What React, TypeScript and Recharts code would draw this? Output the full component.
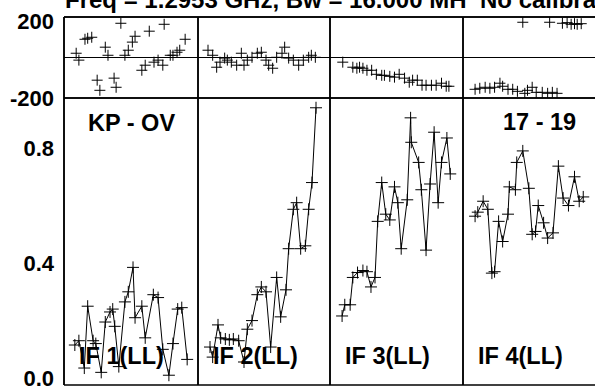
import { ComposedChart, Line, XAxis, YAxis, ReferenceLine } from 'recharts';

// times are minutes from the left edge of each panel
const if1PhaseTime = [18, 22, 31, 35, 41, 49, 53, 61, 65, 74, 77, 84, 90, 95, 101, 105, 115, 120, 126, 133, 139, 146, 148, 157, 161, 167, 171, 179];
const if1Phase = [21, -13, 90, 95, 100, -112, -162, 51, 11, -102, -147, 169, 11, 36, 76, 105, -63, -38, 130, -23, -13, -38, 164, 11, 11, 26, 36, 90];
const if1AmpTime = [16, 22, 30, 35, 43, 47, 55, 61, 68, 72, 75, 81, 90, 95, 102, 105, 115, 120, 132, 139, 146, 155, 161, 168, 174, 182];
const if1Amp = [0.115, 0.13, 0.035, 0.25, 0.13, 0.12, 0.02, 0.195, 0.23, 0.24, 0.18, 0.04, 0.265, 0.3, 0.385, 0.21, 0.25, 0.14, 0.29, 0.28, 0.1, 0.01, 0.12, 0.24, 0.245, 0.065];

const if2PhaseTime = [15, 22, 28, 33, 40, 44, 50, 58, 65, 69, 74, 81, 89, 95, 102, 106, 112, 118, 126, 130, 136, 143, 151, 158, 166, 170, 176];
const if2Phase = [36, 11, -48, -23, -3, -13, -23, -38, 21, -38, -13, 1, 21, 26, -13, -38, -53, 1, 21, 51, -3, -13, -38, -13, 1, 11, 1];
const if2AmpTime = [18, 22, 30, 34, 41, 47, 53, 61, 69, 74, 81, 89, 95, 102, 109, 118, 124, 132, 136, 143, 148, 154, 161, 166, 171, 177];
const if2Amp = [0.108, 0.073, 0.185, 0.14, 0.136, 0.133, 0.136, 0.13, 0.056, 0.17, 0.2, 0.29, 0.317, 0.3, 0.108, 0.35, 0.213, 0.307, 0.45, 0.587, 0.61, 0.45, 0.46, 0.587, 0.68, 0.94];

const if3PhaseTime = [19, 34, 40, 44, 49, 55, 62, 69, 77, 81, 89, 96, 103, 111, 118, 123, 130, 137, 143, 151, 158, 166, 173, 177];
const if3Phase = [-23, -48, -53, -48, -53, -63, -63, -83, -88, -88, -93, -97, -83, -102, -122, -112, -112, -137, -137, -137, -137, -127, -142, -142];
const if3AmpTime = [18, 22, 30, 34, 41, 49, 55, 61, 67, 71, 77, 83, 89, 96, 101, 106, 115, 120, 121, 132, 136, 143, 149, 155, 161, 166, 174, 179];
const if3Amp = [0.216, 0.255, 0.255, 0.35, 0.367, 0.374, 0.37, 0.317, 0.35, 0.545, 0.68, 0.57, 0.55, 0.665, 0.61, 0.45, 0.62, 0.905, 0.82, 0.75, 0.655, 0.445, 0.675, 0.855, 0.61, 0.75, 0.835, 0.71];

const if4PhaseTime = [18, 25, 33, 40, 47, 55, 59, 67, 74, 81, 89, 92, 96, 103, 109, 118, 126, 129, 133, 140, 148, 155, 161, 166, 170, 176];
const if4Phase = [-157, -152, -147, -152, -147, -127, -142, -157, -157, -167, 174, -177, -162, -147, -172, -172, -177, 174, -172, -177, 169, 172, 164, 167, 164, 167];
const if4AmpTime = [18, 22, 30, 37, 43, 47, 53, 59, 67, 69, 78, 80, 89, 98, 103, 108, 112, 120, 126, 134, 142, 149, 157, 166, 173, 179];
const if4Amp = [0.563, 0.577, 0.615, 0.587, 0.365, 0.37, 0.545, 0.475, 0.57, 0.665, 0.655, 0.75, 0.79, 0.66, 0.5, 0.51, 0.6, 0.54, 0.487, 0.505, 0.737, 0.626, 0.6, 0.7, 0.615, 0.63];

const ifLabels = ['IF 1(LL)', 'IF 2(LL)', 'IF 3(LL)', 'IF 4(LL)'];
const timeTicks = [60, 120, 180];
const ampTicks = [0, 0.2, 0.4, 0.6, 0.8];
const ampLabels = [0, 0.4, 0.8];
const phaseLabels = [200, -200];
const titleText = 'Freq = 1.2953 GHz, Bw = 16.000 MH';
const calText = 'No calibration';
const baselineText = 'KP - OV';
const rangeText = '17 - 19';

const FONT = '"Liberation Sans", Arial, Helvetica, sans-serif';
const EDGES = [64, 198, 330, 463, 596];
const PHASE_TOP = 17;
const AMP_TOP = 98;
const AMP_BOTTOM = 385;
const PAD = 10;
const LABEL_W = 64;
const border = { stroke: '#000', strokeWidth: 1.5 };

const zip = (t: number[], v: number[]) => t.map((x, i) => ({ t: x, v: v[i] }));

const panels = [
  { phase: zip(if1PhaseTime, if1Phase), amp: zip(if1AmpTime, if1Amp) },
  { phase: zip(if2PhaseTime, if2Phase), amp: zip(if2AmpTime, if2Amp) },
  { phase: zip(if3PhaseTime, if3Phase), amp: zip(if3AmpTime, if3Amp) },
  { phase: zip(if4PhaseTime, if4Phase), amp: zip(if4AmpTime, if4Amp) },
];

const plus = (r: number) => (p: any) => {
  const { cx, cy, index } = p;
  if (cx == null || cy == null) return <g key={index} />;
  return (
    <path key={index} d={`M${cx - r},${cy}H${cx + r}M${cx},${cy - r}V${cy + r}`}
      stroke="#000" strokeWidth={1} fill="none" />
  );
};

function Panel({ idx, data, kind }: { idx: number; data: { t: number; v: number }[]; kind: 'phase' | 'amp' }) {
  const first = idx === 0;
  const isPhase = kind === 'phase';
  const plotW = EDGES[idx + 1] - EDGES[idx];
  const top = isPhase ? PHASE_TOP : AMP_TOP;
  const h = isPhase ? AMP_TOP - PHASE_TOP : AMP_BOTTOM - AMP_TOP;
  const domain = isPhase ? [-200, 200] : [-0.024, 0.974];
  const xTick = isPhase ? 4 : 7;

  return (
    <div style={{ position: 'absolute', left: first ? 0 : EDGES[idx] - PAD, top: top - PAD }}>
      <ComposedChart
        id={`vplot-${kind}-${idx}`}
        width={plotW + PAD + (first ? LABEL_W : PAD)}
        height={h + 2 * PAD}
        data={data}
        margin={{ top: PAD, bottom: PAD, left: first ? 0 : PAD, right: PAD }}
      >
        <XAxis xAxisId="b" dataKey="t" type="number" domain={[0, 198]} ticks={timeTicks} interval={0}
          orientation="bottom" mirror tick={false} tickSize={xTick} tickLine={border} axisLine={border} allowDataOverflow />
        <XAxis xAxisId="t" dataKey="t" type="number" domain={[0, 198]} ticks={timeTicks} interval={0}
          orientation="top" mirror tick={false} tickSize={xTick} tickLine={border} axisLine={border} allowDataOverflow />
        {first && (
          <YAxis yAxisId="lab" orientation="left" width={LABEL_W} type="number" domain={domain}
            ticks={isPhase ? phaseLabels : ampLabels} interval={0} axisLine={false} tickLine={false} allowDataOverflow
            tick={(p: any) => (
              <text x={54} y={p.y + (p.payload.value === 200 ? 4 : 0)} dy="0.36em" textAnchor="end"
                fontFamily={FONT} fontWeight="bold" fontSize={22} fill="#000">
                {isPhase ? String(p.payload.value) : Number(p.payload.value).toFixed(1)}
              </text>
            )} />
        )}
        <YAxis yAxisId="l" orientation="left" mirror type="number" domain={domain} ticks={isPhase ? undefined : ampTicks}
          interval={0} tick={false} tickLine={isPhase ? false : border} tickSize={7} axisLine={border} allowDataOverflow />
        <YAxis yAxisId="r" orientation="right" mirror type="number" domain={domain} ticks={isPhase ? undefined : ampTicks}
          interval={0} tick={false} tickLine={isPhase ? false : border} tickSize={7} axisLine={border} allowDataOverflow />
        {isPhase && <ReferenceLine xAxisId="b" yAxisId="l" y={0} stroke="#000" strokeWidth={1} />}
        <Line xAxisId="t" yAxisId="r" dataKey="v" stroke="none" dot={false} activeDot={false} legendType="none" isAnimationActive={false} />
        <Line xAxisId="b" yAxisId="l" dataKey="v" type="linear" stroke={isPhase ? 'none' : '#000'} strokeWidth={1}
          dot={plus(isPhase ? 5.5 : 6)} activeDot={false} isAnimationActive={false} />
      </ComposedChart>
    </div>
  );
}

export default function App() {
  return (
    <div style={{ position: 'fixed', left: 0, top: 0, width: 595, height: 389, overflow: 'hidden', background: '#fff' }}>
      {panels.map((p, i) => (
        <div key={i}>
          <Panel idx={i} data={p.phase} kind="phase" />
          <Panel idx={i} data={p.amp} kind="amp" />
        </div>
      ))}
      <svg width={595} height={389} style={{ position: 'absolute', left: 0, top: 0, pointerEvents: 'none' }}
        fontFamily={FONT} fontWeight="bold" fill="#000">
        {/* outer frame: top edge and left edge of the plot grid */}
        <line x1={EDGES[0]} x2={EDGES[4]} y1={PHASE_TOP} y2={PHASE_TOP} stroke="#000" strokeWidth={1.5} />
        <line x1={EDGES[0]} x2={EDGES[0]} y1={PHASE_TOP} y2={AMP_BOTTOM} stroke="#000" strokeWidth={1.5} />
        <text x={65} y={7.5} fontSize={24}>{titleText}</text>
        <text x={480} y={7.5} fontSize={24}>{calText}</text>
        <text x={88} y={131} fontSize={23.5}>{baselineText}</text>
        <text x={503} y={130} fontSize={23.5}>{rangeText}</text>
        {ifLabels.map((s, i) => (
          <text key={s} x={EDGES[i] + 15} y={364} fontSize={23.5}>{s}</text>
        ))}
      </svg>
    </div>
  );
}
